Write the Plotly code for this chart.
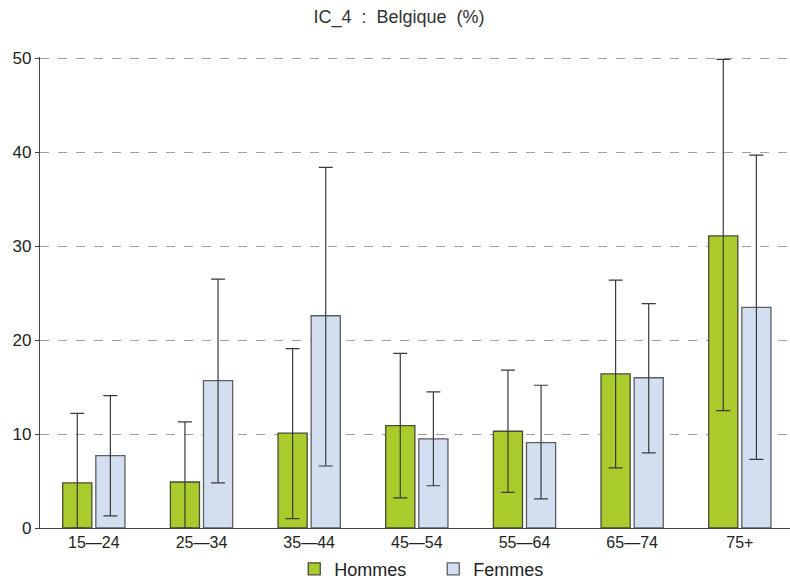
import plotly.graph_objects as go

categories = ["15—24", "25—34", "35—44", "45—54", "55—64", "65—74", "75+"]
hommes = [4.8, 4.9, 10.1, 10.9, 10.3, 16.4, 31.1]
hommes_low = [0.0, 0.0, 1.0, 3.2, 3.8, 6.4, 12.5]
hommes_high = [12.2, 11.3, 19.1, 18.6, 16.8, 26.4, 49.9]
femmes = [7.7, 15.7, 22.6, 9.5, 9.1, 16.0, 23.5]
femmes_low = [1.3, 4.8, 6.6, 4.5, 3.1, 8.0, 7.3]
femmes_high = [14.1, 26.5, 38.4, 14.5, 15.2, 23.9, 39.7]
y_ticks = [0, 10, 20, 30, 40, 50]

def err(vals, low, high):
    return dict(type="data", symmetric=False,
                array=[h - v for v, h in zip(vals, high)],
                arrayminus=[v - l for v, l in zip(vals, low)],
                color="#3a3a3a", thickness=1.2, width=7)

fig = go.Figure()
fig.add_trace(go.Bar(name="Hommes", x=categories, y=hommes,
                     marker=dict(color="#a9cb2b", line=dict(color="#4a4a3a", width=1.3)),
                     error_y=err(hommes, hommes_low, hommes_high)))
fig.add_trace(go.Bar(name="Femmes", x=categories, y=femmes,
                     marker=dict(color="#d3dff0", line=dict(color="#5a5f66", width=1.3)),
                     error_y=err(femmes, femmes_low, femmes_high)))

fig.update_layout(
    width=790, height=582,
    barmode="group", bargap=0.385, bargroupgap=0.12,
    plot_bgcolor="white", paper_bgcolor="white",
    margin=dict(l=40, r=0, t=57, b=54, autoexpand=False),
    font=dict(family="Liberation Sans, Arial, sans-serif", color="#222222"),
    title=dict(text="IC_4\u00a0 :\u00a0 Belgique\u00a0 (%)", x=0.505, xanchor="center",
               y=0.971, yanchor="middle",
               font=dict(size=18, color="#333333")),
    legend=dict(orientation="h", x=0.339, xanchor="left", y=-0.048, yanchor="top",
                font=dict(size=18, color="#222222"), itemwidth=30,
                entrywidth=94, entrywidthmode="pixels",
                traceorder="normal"),
    showlegend=True,
)
fig.update_xaxes(range=[-0.5, 6.466], showline=True, linecolor="#444444", linewidth=1.2,
                 ticks="", tickfont=dict(size=16, color="#222222"), showgrid=False)
fig.update_yaxes(range=[0, 50.15], tickvals=y_ticks, showline=True, linecolor="#444444",
                 linewidth=1.2, ticks="outside", ticklen=4, tickcolor="#444444",
                 tickfont=dict(size=17, color="#222222"),
                 showgrid=True, gridcolor="#a0a0a0", griddash="dash", gridwidth=1.2,
                 zeroline=False)

fig.write_html("out.html", config={"displayModeBar": False},
               post_script="document.body.style.margin='0';")
